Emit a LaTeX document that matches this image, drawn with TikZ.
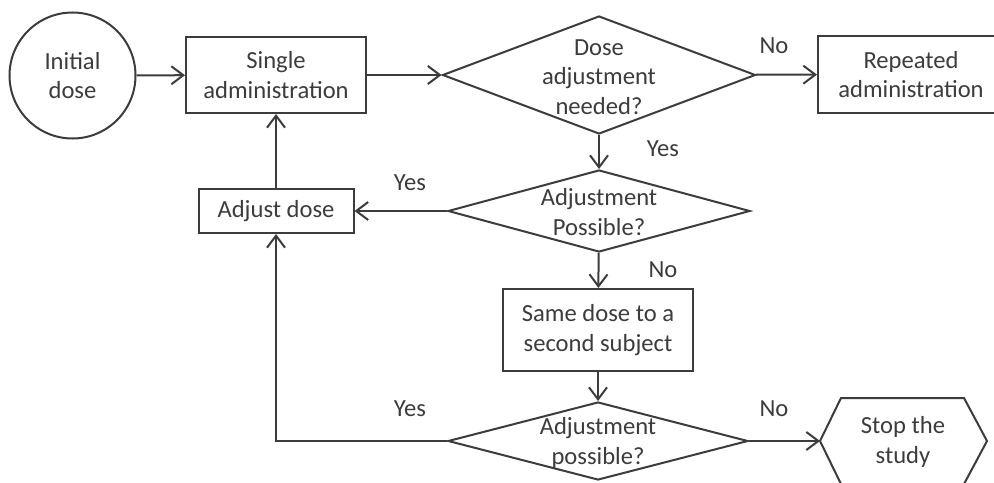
\documentclass[tikz,border=0pt]{standalone}
\usepackage{fontspec}
\setmainfont{Carlito}
\usetikzlibrary{shapes.geometric,arrows.meta}
\definecolor{ink}{RGB}{60,60,60}
\begin{document}
\begin{tikzpicture}[x=0.5pt,y=-0.5pt,
  every node/.style={font=\fontsize{12.3pt}{14.6pt}\selectfont, text=ink, inner sep=0pt, align=center},
  box/.style={draw=ink, line width=1pt, rectangle},
  dia/.style={draw=ink, line width=1pt, diamond},
  circ/.style={draw=ink, line width=1pt, circle},
  arr/.style={draw=ink, line width=1pt, -{Straight Barb[length=6pt,width=9pt]}},
  seg/.style={draw=ink, line width=1pt}]
\fill[white] (0,0) rectangle (994,482);
\useasboundingbox (0,0) rectangle (994,482);
\clip (0,0) rectangle (994,482);

% nodes
\node[circ, minimum size=63pt] (init) at (72.5,75.5) {Initial\\dose};
\node[box, minimum width=90pt, minimum height=38pt] (single) at (276,75) {Single\\administration};
\node[dia, minimum width=156.5pt, minimum height=59pt] (d1) at (599,75) {};
\node (d1t) at (599,77) {Dose\\adjustment\\needed?};
\node[box, minimum width=93pt, minimum height=38.5pt] (rep) at (911,74.5) {Repeated\\administration};
\node[dia, minimum width=151pt, minimum height=41pt] (d2) at (599,211) {};
\node (d2t) at (599,212) {Adjustment\\Possible?};
\node[box, minimum width=77.5pt, minimum height=22pt] (adj) at (276,211) {Adjust dose};
\node[box, minimum width=95pt, minimum height=41pt] (same) at (598,330) {Same dose to a\\second subject};
\node[dia, minimum width=150pt, minimum height=39pt] (d3) at (598,441) {};
\node (d3t) at (598,443) {Adjustment\\possible?};

% hexagon
\coordinate (stopL) at (820,441);
\draw[seg] (stopL) -- (841,398) -- (964,398) -- (987,441) -- (964,484) -- (841,484) -- cycle;
\node (stop) at (903,442) {Stop the\\study};

% labels
\node (l1) at (774,46) {No};
\node (l2) at (663,149) {Yes};
\node (l3) at (410,183) {Yes};
\node (l4) at (663,270) {No};
\node (l5) at (410,409) {Yes};
\node (l6) at (774,409) {No};

% connectors
\draw[arr] (init) -- (single);
\draw[arr] (single) -- (d1);
\draw[arr] (d1) -- (rep);
\draw[arr] (d1) -- (d2);
\draw[arr] (d2) -- (adj);
\draw[arr] (adj) -- (single);
\draw[arr] (d2) -- (same);
\draw[arr] (same) -- (d3);
\draw[arr] (d3.west) -| (adj.south);
\draw[arr] (d3.east) -- (stopL);
\end{tikzpicture}
\end{document}
